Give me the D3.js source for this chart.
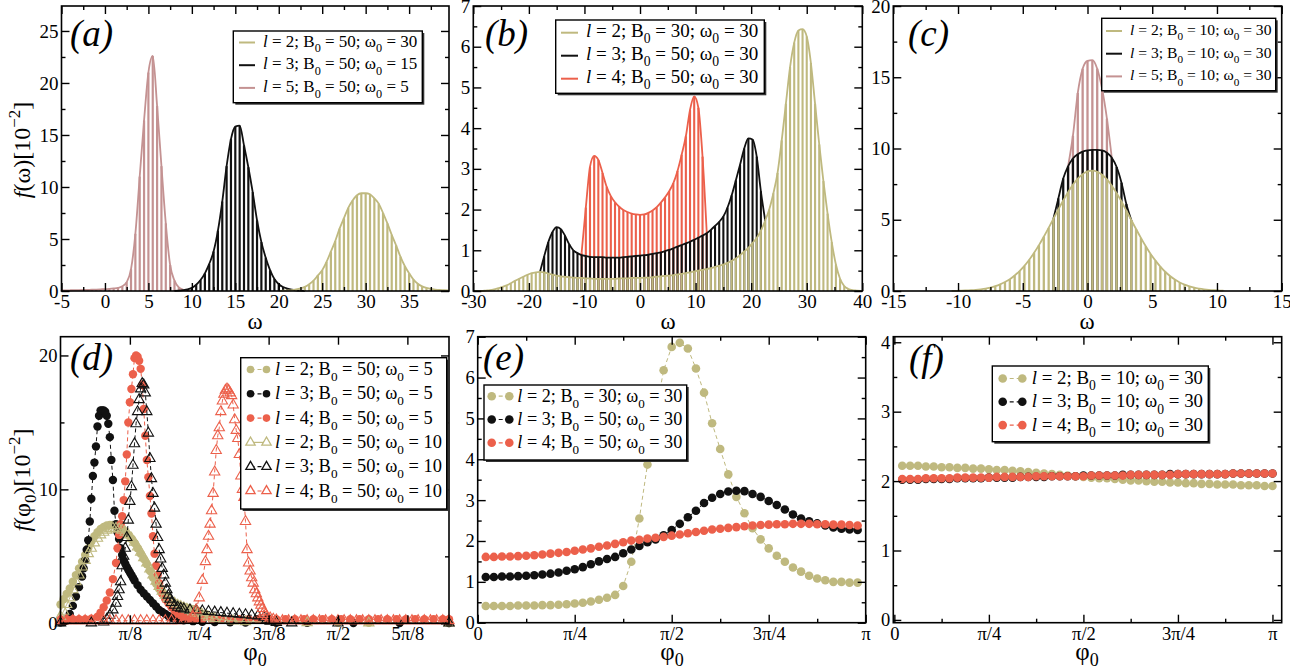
<!DOCTYPE html>
<html>
<head>
<meta charset="utf-8">
<script src="https://cdn.jsdelivr.net/npm/d3@7"></script>
<style>
html, body { margin: 0; padding: 0; background: #fff; }
svg { display: block; }
svg text { white-space: pre; font-family: "Liberation Serif", "Times New Roman", "DejaVu Serif", serif; }
</style>
</head>
<body>
<div id="chart"></div>
<script>
const width = 1290, height = 669;
const serif = '"Liberation Serif", "Times New Roman", serif';
const khaki = "#bfb97f", black = "#111", red = "#ec604b", rose = "#c49292";

// ---------- (a) histogram bins, step 0.5 in omega
const aStep = 0.5;
const aL5From = -5;
const aL5 = [0.05,0.06,0.07,0.08,0.09,0.1,0.11,0.12,0.14,0.16,0.18,0.21,0.25,0.3,0.45,0.85,2.1,5.5,11.0,16.4,21.0,22.6,17.8,12.0,6.5,2.5,1.0,0.35,0.12,0.05,0.02];
const aL3From = 8;
const aL3 = [0.02,0.04,0.08,0.15,0.3,0.6,1.05,1.7,2.6,3.8,5.8,8.6,12.0,14.6,15.8,15.9,14.0,11.9,9.5,6.8,4.7,3.2,2.0,1.15,0.65,0.38,0.22,0.12,0.06,0.03,0.01];
const aL2From = 20;
const aL2 = [0.02,0.03,0.05,0.08,0.15,0.25,0.4,0.65,1.0,1.5,2.0,2.8,3.8,4.8,6.0,7.0,8.0,8.7,9.2,9.4,9.4,9.3,8.9,8.4,7.5,6.5,5.4,4.4,3.3,2.4,1.7,1.1,0.7,0.45,0.3,0.2,0.14,0.1,0.08,0.06];
const aLegend = [["2","50","30"],["3","50","15"],["5","50","5"]];

// ---------- (b) histogram bins, step 0.75
const bStep = 0.75;
const bL2From = -30;
const bL2 = [0,0,0,0.01,0.02,0.04,0.07,0.1,0.14,0.19,
  0.25,0.3,0.35,0.4,0.44,0.46,0.47,0.46,0.43,0.4,
  0.38,0.36,0.35,0.34,0.33,0.32,0.32,0.31,0.31,0.3,
  0.3,0.3,0.3,0.3,0.3,0.31,0.31,0.31,0.32,0.32,
  0.32,0.33,0.33,0.34,0.35,0.36,0.37,0.38,0.39,0.41,
  0.42,0.44,0.46,0.48,0.5,0.52,0.54,0.56,0.59,0.62,
  0.65,0.69,0.74,0.8,0.88,0.97,1.06,1.18,1.3,1.48,
  1.72,2.0,2.4,2.9,3.7,4.6,5.5,6.1,6.4,6.43,
  6.25,5.6,4.6,3.6,2.7,1.9,1.2,0.65,0.3,0.12,
  0.05,0.02,0.01,0];
const bL3From = -18;
const bL3 = [0.47,0.85,1.2,1.45,1.57,1.52,1.36,1.15,1.0,0.93,
  0.88,0.86,0.84,0.83,0.83,0.83,0.82,0.82,0.82,0.82,
  0.83,0.84,0.85,0.86,0.87,0.88,0.89,0.91,0.93,0.95,
  0.98,1.01,1.05,1.09,1.13,1.17,1.21,1.26,1.31,1.36,
  1.42,1.5,1.6,1.7,1.83,2.05,2.35,2.72,3.1,3.5,
  3.75,3.72,3.3,2.45,1.75];
const bL4From = -10.5;
const bL4 = [0.95,2.05,3.05,3.32,3.22,2.9,2.56,2.33,2.18,2.07,1.99,1.94,1.9,1.88,1.87,1.88,1.92,1.98,2.06,2.17,2.3,2.45,2.65,2.95,3.35,3.8,4.45,4.78,4.5,3.3,1.45];
const bLegend = [["2","30","30"],["3","50","30"],["4","50","30"]];

// ---------- (c) histogram bins, step 0.375
const cStep = 0.375;
const cL2From = -10.5;
const cL2 = [0.01,0.015,0.024,0.037,0.056,0.082,0.12,0.17,0.245,0.34,
  0.465,0.63,0.83,1.09,1.4,1.76,2.19,2.68,3.22,3.81,
  4.43,5.08,5.73,6.35,6.94,7.46,7.88,8.2,8.39,8.45,
  8.37,8.16,7.83,7.39,6.87,6.28,5.64,4.99,4.35,3.73,
  3.14,2.6,2.13,1.71,1.35,1.05,0.8,0.6,0.45,0.33,
  0.23,0.165,0.115,0.078,0.052,0.035,0.023];
const cL3From = -2.625;
const cL3 = [5.1,6.5,7.9,8.75,9.3,9.6,9.78,9.87,9.9,9.9,9.87,9.7,9.35,8.7,7.6,6.1,4.99];
const cL5From = -1.5;
const cL5 = [8.75,10.9,13.9,15.6,16.15,16.2,15.6,14.2,12.1,9.35];
const cLegend = [["2","10","30"],["3","10","30"],["5","10","30"]];

// ---------- (d) [phi0 in degrees, f]
const dL2c = [[0,1.4],[1,1.8],[2,2.2],[3,2.6],[4,3.1],[5,3.6],[6,4.1],[7,4.6],[8,5.1],[9,5.6],[10,6.1],[11,6.5],[12,6.8],[13,7.05],[14,7.2],[15,7.3],[16,7.35],[17,7.35],[18,7.3],[19,7.2],[20,7.05],[21,6.85],[22,6.6],[23,6.3],[24,6.0],[25,5.6],[26,5.2],[27,4.8],[28,4.4],[29,3.9],[30,3.4],[31,2.95],[32,2.55],[33,2.2],[34,1.95],[35,1.75],[36,1.6],[37,1.5],[38,1.4],[39,1.3],[40,1.22],[41,1.15],[42,1.1],[43,1.05],[44,1.0],[45,0.9],[47,0.7],[49,0.5],[52,0.35],[56,0.25],[60,0.2],[70,0.12],[80,0.08],[90,0.05],[100,0.04],[110,0.03],[126,0.02]];
const dL3c = [[0,0.05],[1,0.1],[2,0.3],[3,0.7],[4,1.3],[5,2.0],[6,2.7],[7,3.5],[7.5,4.1],[8,4.7],[8.5,5.5],[9,6.2],[9.5,7.6],[10,9.3],[10.5,11.0],[11,12.0],[11.5,13.2],[12,14.7],[12.5,15.5],[13,15.9],[13.5,15.9],[14,15.9],[14.5,15.8],[15,15.5],[15.5,14.9],[16,13.9],[16.5,12.2],[17,10.7],[17.5,8.4],[18,7.4],[18.5,6.8],[19,6.3],[19.5,5.6],[20,5.1],[20.5,4.7],[21,4.45],[21.5,4.2],[22,4.0],[22.5,3.8],[23,3.6],[23.5,3.4],[24,3.2],[25,2.85],[26,2.5],[27,2.25],[28,2.0],[29,1.75],[30,1.5],[31,1.25],[32,1.0],[33,0.85],[34,0.7],[35,0.55],[36,0.42],[38,0.3],[40,0.22],[43,0.16],[46,0.12],[50,0.09],[55,0.07],[60,0.05],[70,0.04],[80,0.03],[95,0.02],[110,0.02],[126,0.02]];
const dL4c = [[0,0.3],[2,0.3],[4,0.3],[6,0.3],[8,0.3],[10,0.35],[12,0.5],[13,0.8],[14,1.2],[15,1.7],[16,2.3],[17,3.3],[18,4.5],[18.5,5.6],[19,6.6],[19.5,7.4],[20,8.0],[20.5,9.2],[21,10.6],[21.5,12.6],[22,15.0],[22.5,16.5],[23,17.5],[23.5,18.6],[24,19.8],[24.5,20.0],[25,19.9],[25.5,19.6],[26,19.0],[26.5,17.8],[27,16.0],[27.5,14.0],[28,12.2],[28.5,10.9],[29,9.5],[29.5,8.2],[30,6.5],[30.5,5.2],[31,4.3],[31.5,3.6],[32,3.0],[32.5,2.6],[33,2.2],[34,1.8],[35,1.5],[36,1.2],[37,0.95],[38,0.75],[39,0.6],[40,0.5],[42,0.4],[44,0.35],[46,0.3],[49,0.3],[52,0.3],[55,0.3],[58,0.3],[61,0.3],[64,0.3],[67,0.3],[70,0.3],[73,0.3],[76,0.3],[79,0.3],[82,0.3],[85,0.3],[88,0.3],[91,0.3],[94,0.3],[97,0.3],[100,0.3],[103,0.3],[106,0.3],[109,0.3],[112,0.3],[115,0.3],[118,0.3],[121,0.3],[124,0.3],[126,0.3]];
const dL2t = [[0,0.5],[1,0.9],[2,1.4],[3,1.9],[4,2.5],[5,3.1],[6,3.6],[7,4.2],[8,4.7],[9,5.2],[10,5.6],[11,6.0],[12,6.35],[13,6.6],[14,6.8],[15,6.95],[16,7.05],[17,7.1],[18,7.1],[19,7.05],[20,6.95],[21,6.8],[22,6.6],[23,6.35],[24,6.05],[25,5.7],[26,5.3],[27,4.9],[28,4.5],[29,4.05],[30,3.6],[31,3.15],[32,2.75],[33,2.4],[34,2.1],[35,1.85],[36,1.65],[37,1.5],[38,1.35],[39,1.25],[40,1.15],[41,1.05],[42,0.95],[43,0.85],[44,0.75],[46,0.6],[48,0.45],[50,0.35],[53,0.25],[56,0.18],[60,0.12],[70,0.08],[80,0.05],[100,0.03],[126,0.02]];
const dL3t = [[0,0.02],[10,0.03],[14,0.1],[15,0.3],[16,0.6],[17,1.0],[18,1.5],[18.5,2.0],[19,2.5],[19.5,3.1],[20,4.3],[20.5,5.0],[21,5.6],[21.5,6.4],[22,7.7],[22.5,9.1],[23,10.2],[23.5,11.8],[24,13.4],[24.5,14.9],[25,15.8],[25.5,16.7],[26,17.5],[26.5,17.9],[27,17.8],[27.5,17.2],[28,15.8],[28.5,14.2],[29,12.3],[29.5,10.8],[30,9.7],[30.5,8.6],[31,7.4],[31.5,6.4],[32,5.5],[32.5,4.8],[33,4.1],[33.5,3.6],[34,3.0],[34.5,2.5],[35,2.1],[35.5,1.8],[36,1.55],[37,1.35],[38,1.2],[39,1.12],[40,1.07],[42,1.0],[44,0.97],[46,0.93],[48,0.88],[50,0.84],[52,0.8],[54,0.76],[56,0.72],[58,0.68],[60,0.64],[62,0.6],[64,0.55],[66,0.45],[67,0.3],[68,0.15],[70,0.06],[75,0.03],[90,0.02],[126,0.02]];
const dL4t = [[0,0.2],[2,0.2],[4,0.2],[6,0.2],[8,0.2],[10,0.2],[12,0.2],[14,0.2],[16,0.2],[18,0.2],[20,0.2],[22,0.2],[24,0.2],[26,0.2],[28,0.2],[30,0.2],[32,0.2],[34,0.2],[36,0.2],[38,0.2],[40,0.22],[42,0.3],[43,0.5],[44,1.0],[45,1.9],[46,3.2],[47,4.6],[47.5,5.5],[48,6.5],[48.5,7.4],[49,8.4],[49.5,9.7],[50,11.3],[50.5,12.9],[51,14.0],[51.5,14.6],[52,15.8],[52.5,16.6],[53,17.1],[53.5,17.4],[54,17.5],[54.5,17.4],[55,17.2],[55.5,17.0],[56,16.3],[56.5,15.2],[57,14.4],[57.5,13.8],[58,12.6],[58.5,11.0],[59,10.0],[59.5,9.4],[60,7.6],[60.5,5.5],[61,4.5],[61.5,3.9],[62,3.4],[62.5,3.0],[63,2.5],[63.5,2.2],[64,1.9],[64.5,1.6],[65,1.35],[65.5,1.1],[66,0.85],[66.5,0.65],[67,0.5],[68,0.4],[69,0.3],[70,0.25],[72,0.2],[74,0.2],[76,0.2],[78,0.2],[80,0.2],[82,0.2],[84,0.2],[86,0.2],[88,0.2],[90,0.2],[92,0.2],[94,0.2],[96,0.2],[98,0.2],[100,0.2],[102,0.2],[104,0.2],[106,0.2],[108,0.2],[110,0.2],[112,0.2],[114,0.2],[116,0.2],[118,0.2],[120,0.2],[122,0.2],[124,0.2],[126,0.2]];
const dLegend = [["2","50","5"],["3","50","5"],["4","50","5"],["2","50","10"],["3","50","10"],["4","50","10"]];

// ---------- (e) phi0 grid every 3.75 degrees
const eDeg = d3.range(1, 48).map(i => i * 3.75);
const eL2 = [0.41,0.41,0.41,0.41,0.42,0.42,0.42,0.43,0.43,0.44,0.45,0.47,0.49,0.52,0.56,0.61,0.68,0.9,1.49,2.55,3.87,5.1,6.18,6.75,6.85,6.71,6.22,5.63,4.88,4.25,3.63,3.08,2.68,2.31,2.04,1.82,1.64,1.49,1.35,1.25,1.15,1.08,1.04,1.0,1.0,0.98,0.98];
const eL3 = [1.12,1.12,1.13,1.13,1.14,1.15,1.16,1.18,1.2,1.23,1.27,1.31,1.36,1.43,1.5,1.56,1.61,1.7,1.79,1.88,1.97,2.04,2.14,2.27,2.42,2.58,2.74,2.93,3.06,3.15,3.21,3.23,3.22,3.15,3.08,2.98,2.88,2.77,2.65,2.55,2.48,2.43,2.38,2.33,2.3,2.28,2.27];
const eL4 = [1.61,1.61,1.62,1.62,1.63,1.64,1.65,1.67,1.69,1.71,1.73,1.76,1.79,1.82,1.86,1.89,1.93,1.97,2.01,2.03,2.06,2.08,2.1,2.13,2.16,2.19,2.22,2.25,2.28,2.3,2.32,2.34,2.36,2.38,2.39,2.4,2.41,2.41,2.42,2.42,2.42,2.41,2.41,2.4,2.4,2.39,2.38];
const eLegend = [["2","30","30"],["3","50","30"],["4","50","30"]];

// ---------- (f) phi0 grid every 3.75 degrees
const fDeg = d3.range(1, 49).map(i => i * 3.75);
const fL2 = [2.22,2.22,2.22,2.21,2.21,2.2,2.2,2.19,2.19,2.18,2.18,2.17,2.16,2.16,2.15,2.14,2.13,2.12,2.11,2.1,2.09,2.08,2.07,2.06,2.05,2.04,2.04,2.03,2.02,2.01,2.01,2.0,1.99,1.99,1.98,1.98,1.97,1.97,1.96,1.96,1.95,1.95,1.95,1.94,1.94,1.94,1.93,1.93];
const fL3 = [2.02,2.02,2.02,2.03,2.03,2.03,2.03,2.04,2.04,2.04,2.04,2.05,2.05,2.05,2.05,2.06,2.06,2.06,2.06,2.07,2.07,2.07,2.07,2.08,2.08,2.08,2.08,2.08,2.09,2.09,2.09,2.09,2.09,2.09,2.1,2.1,2.1,2.1,2.1,2.1,2.1,2.1,2.11,2.11,2.11,2.11,2.11,2.11];
const fL4 = [2.03,2.03,2.03,2.04,2.04,2.04,2.04,2.05,2.05,2.05,2.05,2.05,2.06,2.06,2.06,2.06,2.06,2.07,2.07,2.07,2.07,2.07,2.07,2.07,2.08,2.08,2.08,2.08,2.08,2.09,2.09,2.09,2.09,2.09,2.09,2.1,2.1,2.1,2.1,2.1,2.1,2.1,2.11,2.11,2.11,2.11,2.11,2.11];
const fLegend = [["2","10","30"],["3","10","30"],["4","10","30"]];

// tick labels for the phi axes (degrees -> fractions of pi)
const piLabels = {0: "0", 22.5: "π/8", 45: "π/4", 67.5: "3π/8", 90: "π/2", 112.5: "5π/8", 135: "3π/4", 180: "π"};

const svg = d3.select("#chart").append("svg")
  .attr("width", width).attr("height", height)
  .attr("viewBox", [0, 0, width, height]);
svg.append("rect").attr("width", width).attr("height", height).attr("fill", "#fff");

const none = () => "";

function axes(x, y, o) {
  const [l, r] = x.range(), [b, t] = y.range();
  const g = svg.append("g");
  const put = (axis, tr) => {
    const s = g.append("g").attr("transform", tr).call(axis);
    s.select(".domain").remove();
    s.attr("font-family", serif).attr("font-size", o.font || 19);
    s.selectAll("line").attr("stroke", "#000").attr("stroke-width", 1.4);
    s.selectAll("text").attr("fill", "#000");
  };
  const fx = o.xFmt || (d => d), fy = o.yFmt || (d => d);
  put(d3.axisBottom(x).tickValues(o.xMajor).tickSize(-8).tickPadding(4).tickFormat(fx), `translate(0,${b})`);
  put(d3.axisTop(x).tickValues(o.xMajor).tickSize(-8).tickFormat(none), `translate(0,${t})`);
  put(d3.axisLeft(y).tickValues(o.yMajor).tickSize(-8).tickPadding(3).tickFormat(fy), `translate(${l},0)`);
  put(d3.axisRight(y).tickValues(o.yMajor).tickSize(-8).tickFormat(none), `translate(${r},0)`);
  if (o.xMinor) {
    put(d3.axisBottom(x).tickValues(o.xMinor).tickSize(-4).tickFormat(none), `translate(0,${b})`);
    put(d3.axisTop(x).tickValues(o.xMinor).tickSize(-4).tickFormat(none), `translate(0,${t})`);
  }
  if (o.yMinor) {
    put(d3.axisLeft(y).tickValues(o.yMinor).tickSize(-4).tickFormat(none), `translate(${l},0)`);
    put(d3.axisRight(y).tickValues(o.yMinor).tickSize(-4).tickFormat(none), `translate(${r},0)`);
  }
  g.append("rect").attr("x", l).attr("y", t).attr("width", r - l).attr("height", b - t)
    .attr("fill", "none").attr("stroke", "#000").attr("stroke-width", 1.6);
}

function histo(x, y, from, step, vals, color, sw) {
  const pts = vals.map((v, i) => [from + i * step, v]);
  const g = svg.append("g");
  g.selectAll("line").data(pts).join("line")
    .attr("x1", d => x(d[0])).attr("x2", d => x(d[0]))
    .attr("y1", y(0)).attr("y2", d => y(d[1]))
    .attr("stroke", color).attr("stroke-width", sw);
  g.append("path").datum(pts)
    .attr("d", d3.line().x(d => x(d[0])).y(d => y(d[1])).curve(d3.curveMonotoneX))
    .attr("fill", "none").attr("stroke", color).attr("stroke-width", 1.8);
}

function marker(shape, r) {
  return shape === "t" ? d3.symbol(d3.symbolTriangle, r * r * 2.6) : d3.symbol(d3.symbolCircle, Math.PI * r * r);
}

function dots(x, y, pts, color, shape, dash, r) {
  const g = svg.append("g");
  g.append("path").datum(pts)
    .attr("d", d3.line().x(d => x(d[0])).y(d => y(d[1])))
    .attr("fill", "none").attr("stroke", color).attr("stroke-width", 1)
    .attr("stroke-dasharray", dash);
  g.selectAll("path.m").data(pts).join("path").attr("class", "m")
    .attr("transform", d => `translate(${x(d[0])},${y(d[1])})`)
    .attr("d", marker(shape, r))
    .attr("fill", shape === "t" ? "none" : color)
    .attr("stroke", shape === "t" ? color : "none")
    .attr("stroke-width", 1.1);
}

function label(x, yb, fs, lab) {
  const t = svg.append("text").attr("x", x).attr("y", yb).attr("font-size", fs).attr("fill", "#000");
  const sub = fs * 0.33, ss = fs * 0.72;
  t.append("tspan").attr("font-style", "italic").text("l");
  t.append("tspan").text(` = ${lab[0]}; B`);
  t.append("tspan").attr("dy", sub).attr("font-size", ss).text("0");
  t.append("tspan").attr("dy", -sub).text(` = ${lab[1]}; ω`);
  t.append("tspan").attr("dy", sub).attr("font-size", ss).text("0");
  t.append("tspan").attr("dy", -sub).text(` = ${lab[2]}`);
}

function legendBox(x0, y0, x1, y1) {
  svg.append("rect").attr("x", x0 + 2).attr("y", y0 + 2).attr("width", x1 - x0).attr("height", y1 - y0)
    .attr("fill", "#333");
  svg.append("rect").attr("x", x0).attr("y", y0).attr("width", x1 - x0).attr("height", y1 - y0)
    .attr("fill", "#fff").attr("stroke", "#000").attr("stroke-width", 1.4);
}

function lineLegend(box, lx0, lx1, tx, base, gap, fs, labs, colors) {
  legendBox(...box);
  labs.forEach((lab, i) => {
    const yb = base + i * gap;
    svg.append("line").attr("x1", lx0).attr("x2", lx1).attr("y1", yb - 4).attr("y2", yb - 4)
      .attr("stroke", colors[i]).attr("stroke-width", 2);
    label(tx, yb, fs, lab);
  });
}

function dotLegend(box, mx0, mx1, tx, base, gap, fs, labs, colors, shapes, r) {
  legendBox(...box);
  labs.forEach((lab, i) => {
    const yb = base + i * gap, ym = yb - 5.5;
    svg.append("line").attr("x1", mx0).attr("x2", mx1).attr("y1", ym).attr("y2", ym)
      .attr("stroke", colors[i]).attr("stroke-width", 1.2)
      .attr("stroke-dasharray", shapes[i] === "t" && colors[i] === khaki ? null : "4,3");
    [mx0, mx1].forEach(mx => {
      svg.append("path").attr("transform", `translate(${mx},${ym})`).attr("d", marker(shapes[i], r))
        .attr("fill", shapes[i] === "t" ? "#fff" : colors[i])
        .attr("stroke", shapes[i] === "t" ? colors[i] : "none").attr("stroke-width", 1.3);
    });
    label(tx, yb, fs, lab);
  });
}

function panelTag(x, yb, s) {
  svg.append("text").attr("x", x).attr("y", yb).attr("font-size", 37)
    .attr("font-style", "italic").attr("fill", "#000").text(s);
}

function xTitle(cx, yb, phi) {
  const t = svg.append("text").attr("x", cx).attr("y", yb).attr("text-anchor", "middle")
    .attr("font-size", phi ? 25 : 23).attr("fill", "#000");
  if (phi) {
    t.append("tspan").text("φ");
    t.append("tspan").attr("dy", 6).attr("font-size", 18).text("0");
  } else t.text("ω");
}

function yTitle(cx, cy, phi) {
  const t = svg.append("text").attr("transform", `translate(${cx},${cy}) rotate(-90)`)
    .attr("text-anchor", "middle").attr("font-size", 24).attr("fill", "#000");
  t.append("tspan").attr("font-style", "italic").text("f");
  if (phi) {
    t.append("tspan").text("(φ");
    t.append("tspan").attr("dy", 6).attr("font-size", 17).text("0");
    t.append("tspan").attr("dy", -6).text(")[10");
  } else t.append("tspan").text("(ω)[10");
  t.append("tspan").attr("dy", -10).attr("font-size", 17).text("−2");
  t.append("tspan").attr("dy", 10).text("]");
}

// ================= (a)
{
  const x = d3.scaleLinear().domain([-5, 39.59]).range([61.5, 449]);
  const y = d3.scaleLinear().domain([0, 27.4]).range([291, 6]);
  histo(x, y, aL5From, aStep, aL5, rose, 2.2);
  histo(x, y, aL3From, aStep, aL3, black, 2.2);
  histo(x, y, aL2From, aStep, aL2, khaki, 2.2);
  axes(x, y, {xMajor: d3.range(-5, 36, 5), xMinor: d3.range(-2.5, 39, 5),
    yMajor: d3.range(0, 26, 5), yMinor: d3.range(2.5, 27, 5)});
  lineLegend([233.3, 31, 422.3, 102.7], 239, 255, 263, 46.5, 22.7, 17, aLegend, [khaki, black, rose]);
  panelTag(70, 46, "(a)");
  xTitle(255, 329, false);
}
// ================= (b)
{
  const x = d3.scaleLinear().domain([-30, 40]).range([473.3, 862.3]);
  const y = d3.scaleLinear().domain([0, 7]).range([291, 6]);
  histo(x, y, bL4From, bStep, bL4, red, 2.1);
  histo(x, y, bL3From, bStep, bL3, black, 2.1);
  histo(x, y, bL2From, bStep, bL2, khaki, 2.1);
  axes(x, y, {xMajor: d3.range(-30, 41, 10), xMinor: d3.range(-25, 40, 10),
    yMajor: d3.range(0, 8, 1), yMinor: d3.range(0.5, 7, 1)});
  lineLegend([555.7, 20, 764.3, 93.3], 561, 578, 586, 36.7, 23, 19, bLegend, [khaki, black, red]);
  panelTag(485, 46, "(b)");
  xTitle(668, 329, false);
}
// ================= (c)
{
  const x = d3.scaleLinear().domain([-15, 15]).range([893.3, 1281.7]);
  const y = d3.scaleLinear().domain([0, 20]).range([291, 6]);
  histo(x, y, cL5From, cStep, cL5, rose, 2.3);
  histo(x, y, cL3From, cStep, cL3, black, 2.3);
  histo(x, y, cL2From, cStep, cL2, khaki, 2.3);
  axes(x, y, {xMajor: d3.range(-15, 16, 5), xMinor: d3.range(-12.5, 15, 5),
    yMajor: d3.range(0, 21, 5), yMinor: d3.range(2.5, 20, 5)});
  lineLegend([1101.7, 18.3, 1275.7, 90.7], 1106, 1122, 1130, 35, 22.7, 15.6, cLegend, [khaki, black, rose]);
  panelTag(908, 46, "(c)");
  xTitle(1087, 329, false);
}
// ================= (d)
{
  const x = d3.scaleLinear().domain([0, 126]).range([60.5, 449]);
  const y = d3.scaleLinear().domain([0, 21.4]).range([623.3, 336.7]);
  dots(x, y, dL2c, khaki, "c", "4,3", 4.2);
  dots(x, y, dL3c, black, "c", "4,3", 4.2);
  dots(x, y, dL4c, red, "c", "4,3", 4.2);
  dots(x, y, dL2t, khaki, "t", null, 4.2);
  dots(x, y, dL3t, black, "t", "4,3", 4.2);
  dots(x, y, dL4t, red, "t", "4,3", 4.2);
  axes(x, y, {xMajor: [22.5, 45, 67.5, 90, 112.5], xFmt: d => piLabels[d],
    yMajor: [0, 10, 20], yMinor: [5, 15], font: 18.5});
  dotLegend([240.7, 357.7, 446.7, 509], 250.5, 266.5, 275, 375, 24.3, 18.4, dLegend,
    [khaki, black, red, khaki, black, red], ["c", "c", "c", "t", "t", "t"], 3.8);
  panelTag(70, 370, "(d)");
  xTitle(255, 660, true);
}
// ================= (e)
{
  const x = d3.scaleLinear().domain([0, 180]).range([477.7, 865.7]);
  const y = d3.scaleLinear().domain([0, 7]).range([622.7, 336.7]);
  const pts = v => eDeg.map((d, i) => [d, v[i]]);
  dots(x, y, pts(eL2), khaki, "c", "4,3", 4.3);
  dots(x, y, pts(eL3), black, "c", "4,3", 4.3);
  dots(x, y, pts(eL4), red, "c", "4,3", 4.3);
  axes(x, y, {xMajor: [0, 45, 90, 135, 180], xMinor: [22.5, 67.5, 112.5, 157.5], xFmt: d => piLabels[d],
    yMajor: d3.range(0, 8, 1), yMinor: d3.range(0.5, 7, 1), font: 18.5});
  dotLegend([484, 385, 686.7, 460], 491.7, 509.3, 517.3, 401.7, 23.3, 18.2, eLegend,
    [khaki, black, red], ["c", "c", "c"], 4.3);
  panelTag(483, 370, "(e)");
  xTitle(672, 660, true);
}
// ================= (f)
{
  const x = d3.scaleLinear().domain([-0.5, 184.4]).range([893.3, 1281.7]);
  const y = d3.scaleLinear().domain([-0.04, 4.08]).range([622.7, 336.7]);
  const pts = v => fDeg.map((d, i) => [d, v[i]]);
  dots(x, y, pts(fL2), khaki, "c", "4,3", 4.3);
  dots(x, y, pts(fL3), black, "c", "4,3", 4.3);
  dots(x, y, pts(fL4), red, "c", "4,3", 4.3);
  axes(x, y, {xMajor: [0, 45, 90, 135, 180], xMinor: [22.5, 67.5, 112.5, 157.5], xFmt: d => piLabels[d],
    yMajor: d3.range(0, 5, 1), yMinor: d3.range(0.5, 4, 1), font: 18.5});
  dotLegend([992.3, 366, 1208.3, 441.7], 1002.7, 1022.3, 1031.7, 384, 23.3, 18.9, fLegend,
    [khaki, black, red], ["c", "c", "c"], 4.3);
  panelTag(909, 371, "(f)");
  xTitle(1087, 660, true);
}

yTitle(30, 150, false);
yTitle(30, 480, true);
</script>
</body>
</html>
